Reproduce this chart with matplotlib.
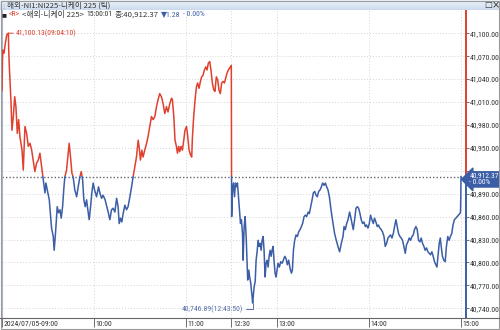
import numpy as np
import matplotlib
matplotlib.use("Agg")
import matplotlib.pyplot as plt
import matplotlib.transforms as mtransforms
from matplotlib import font_manager
from matplotlib.patches import Rectangle
from matplotlib.lines import Line2D

# ------------------------------------------------------------------
# data: Nikkei 225 tick chart, 2024/07/05
# x = trading minutes since 09:00 (lunch 11:30-12:30 removed)
# ------------------------------------------------------------------
am_min = [0.0, 0.3, 0.6, 1.3, 2.2, 3.1, 4.17, 4.4, 4.8, 5.2, 5.9, 6.5, 7.4, 8.3, 9.1,
          10.0, 10.9, 11.7, 13.1, 13.9, 15.0, 16.1, 17.2, 18.3, 19.4, 20.4, 21.5, 22.6,
          23.7, 24.8, 25.9, 27.0, 28.1, 28.7, 29.6, 30.9, 31.8, 32.4, 33.5, 34.1, 35.0,
          35.7, 36.1, 37.0, 37.9, 38.7, 39.6, 40.5, 41.1, 42.2, 43.3, 43.9, 44.8, 45.7,
          46.5, 47.6, 48.8, 49.8, 50.9, 51.8, 52.7, 53.5, 54.4, 55.3, 56.1, 57.0, 57.9,
          58.7, 59.6, 60.5, 61.8, 63.1, 64.0, 65.1, 66.1, 67.4, 68.3, 69.4, 70.5, 71.6,
          72.6, 73.8, 74.9, 75.9, 76.6, 77.5, 78.3, 79.2, 80.3, 81.4, 82.4, 83.6, 84.7,
          85.7, 86.8, 87.9, 89.0, 89.6, 90.5, 91.4, 92.2, 93.3, 94.5, 95.5, 96.6, 97.7,
          98.8, 99.9, 101.0, 102.0, 103.1, 104.2, 105.3, 106.4, 107.5, 108.5, 109.7,
          110.8, 111.4, 112.3, 113.1, 114.0, 114.7, 115.5, 116.2, 117.0, 117.9, 118.8,
          119.6, 120.6, 121.4, 122.3, 123.2, 124.0, 124.5, 125.3, 126.2, 127.1, 127.9,
          128.8, 129.7, 130.5, 131.4, 132.3, 133.2, 134.0, 134.9, 135.8, 136.6, 137.5,
          138.4, 139.2, 140.1, 141.0, 141.8, 142.7, 143.6, 144.5, 145.4, 146.2, 147.1,
          148.0, 149.9]
am_px = [41025, 41065, 41078, 41074, 41087, 41098, 41100.13, 41078, 41056, 41039, 41009,
         40973, 40991, 41017, 41004, 40969, 40987, 40965, 40947, 40921, 40978, 40969,
         40952, 40956, 40947, 40934, 40919, 40930, 40934, 40943, 40925, 40908, 40891,
         40904, 40895, 40882, 40860, 40845, 40834, 40816, 40839, 40860, 40873, 40865,
         40869, 40858, 40873, 40899, 40912, 40921, 40943, 40956, 40938, 40917, 40912,
         40895, 40886, 40899, 40912, 40919, 40908, 40882, 40873, 40882, 40869, 40856,
         40873, 40891, 40904, 40895, 40886, 40899, 40891, 40884, 40888, 40882, 40875,
         40866, 40856, 40869, 40871, 40866, 40884, 40873, 40851, 40858, 40853, 40864,
         40875, 40869, 40873, 40886, 40899, 40912, 40925, 40938, 40960, 40952, 40934,
         40947, 40938, 40947, 40956, 40965, 40978, 40991, 40987, 40991, 41004, 41013,
         41021, 41017, 41008, 40995, 41004, 40997, 41008, 41015, 41013, 40991, 40960,
         40952, 40943, 40952, 40945, 40952, 40947, 40960, 40973, 40978, 40965, 40947,
         40941, 40938, 40965, 40991, 41013, 41030, 41035, 41028, 41037, 41043, 41045,
         41052, 41056, 41052, 41061, 41063, 41052, 41035, 41026, 41024, 41043, 41039,
         41026, 41021, 41035, 41037, 41035, 41041, 41048, 41052, 41058]

pm_min = [150.1, 150.65, 151.3, 152.0, 152.6, 153.3, 153.9, 154.6, 155.2, 155.9, 156.5,
          157.2, 157.6, 158.3, 158.9, 159.6, 160.2, 160.6, 161.3, 161.9, 162.6, 163.0,
          163.5, 163.83, 164.8, 165.5, 166.1, 166.8, 167.4, 168.1, 168.7, 169.4, 170.0,
          170.7, 171.3, 172.0, 172.6, 173.3, 173.95, 174.6, 175.25, 175.9, 176.55, 177.2,
          177.8, 178.5, 179.1, 179.8, 180.4, 181.3, 182.2, 183.1, 183.9, 184.8, 185.7,
          186.5, 187.4, 188.3, 189.2, 189.8, 190.5, 191.3, 192.2, 193.1, 193.9, 194.8,
          195.7, 196.5, 197.45, 198.3, 199.15, 200.1, 200.9, 201.8, 202.7, 203.5, 204.4,
          205.3, 206.1, 207.0, 207.9, 208.75, 209.6, 210.5, 211.4, 212.2, 213.1, 214.0,
          214.8, 215.7, 216.4, 217.4, 218.5, 219.6, 220.7, 221.8, 222.9, 223.6, 224.4,
          225.3, 226.2, 227.2, 227.9, 228.8, 229.6, 230.5, 231.4, 232.2, 233.1, 234.0,
          234.8, 235.7, 236.6, 237.5, 238.3, 239.2, 240.1, 240.9, 241.8, 242.7, 243.5,
          244.4, 245.3, 246.1, 247.0, 247.9, 248.75, 249.7, 250.5, 251.4, 252.3, 253.1,
          254.0, 254.9, 255.8, 256.6, 257.5, 258.35, 259.2, 260.1, 261.0, 261.8, 262.7,
          263.6, 264.4, 265.3, 266.2, 267.05, 268.0, 268.8, 269.6, 270.55, 271.4, 272.3,
          273.2, 274.0, 274.9, 275.8, 276.6, 277.5, 278.4, 279.25, 280.1, 281.0, 281.85,
          282.7, 283.6, 284.3, 284.95, 285.8, 286.5, 287.1, 287.9, 288.8, 289.7, 290.5,
          291.4, 292.3, 293.1, 294.0, 294.8, 295.7, 296.7, 297.5, 298.4, 299.3, 299.7,
          299.9, 300.02]
pm_px = [40860, 40895, 40904, 40886, 40904, 40899, 40904, 40886, 40869, 40851, 40856,
         40838, 40803, 40847, 40860, 40834, 40799, 40777, 40790, 40781, 40773, 40764,
         40755, 40746.89, 40768, 40775, 40803, 40815, 40829, 40821, 40825, 40816, 40829,
         40834, 40816, 40781, 40799, 40803, 40794, 40808, 40816, 40808, 40816, 40821,
         40803, 40786, 40781, 40790, 40799, 40794, 40801, 40799, 40803, 40808, 40805,
         40797, 40803, 40792, 40786, 40790, 40816, 40829, 40836, 40834, 40840, 40843,
         40847, 40851, 40860, 40862, 40860, 40866, 40864, 40873, 40882, 40891, 40893,
         40888, 40886, 40893, 40895, 40899, 40904, 40901, 40904, 40899, 40895, 40886,
         40873, 40860, 40851, 40838, 40829, 40821, 40814, 40825, 40834, 40847, 40843,
         40851, 40856, 40866, 40860, 40851, 40843, 40856, 40871, 40873, 40871, 40864,
         40856, 40851, 40853, 40847, 40849, 40845, 40851, 40862, 40856, 40851, 40858,
         40853, 40847, 40849, 40845, 40843, 40840, 40834, 40821, 40825, 40832, 40834,
         40836, 40832, 40838, 40847, 40856, 40847, 40838, 40834, 40832, 40829, 40821,
         40812, 40823, 40827, 40832, 40829, 40834, 40836, 40843, 40847, 40843, 40829,
         40827, 40832, 40825, 40821, 40816, 40819, 40814, 40812, 40810, 40814, 40808,
         40801, 40797, 40794, 40808, 40825, 40832, 40821, 40808, 40803, 40801, 40821,
         40834, 40829, 40834, 40838, 40849, 40856, 40858, 40860, 40862, 40864, 40866,
         40886, 40912.37]

prev_close = 40913.65
last_price = 40912.37
change = -1.28
change_pct = -0.00

hi_min, hi_px, hi_label = 4.17, 41100.13, "09:04:10"
lo_min, lo_px, lo_label = 163.83, 40746.89, "12:43:50"

tick_pos = [0, 60, 120, 150, 180, 240, 300]
tick_lbl = ["2024/07/05-09:00", "10:00", "11:00", "12:30", "13:00", "14:00", "15:00"]
price_ticks = list(range(40740, 41101, 30))

title = "해외-NI1:NI225-니케이 225 (틱)"
series_name = "<해외-니케이 225>"
last_time = "15:00:01"

# ------------------------------------------------------------------
RED = "#e0402e"
BLUE = "#3b5ea6"
GRID = "#d4d4d4"
TXT = "#333333"
KR_FONT = ["Noto Sans CJK KR", "DejaVu Sans"]


def font_ok(name):
    try:
        font_manager.findfont(font_manager.FontProperties(family=name),
                              fallback_to_default=False)
        return True
    except ValueError:
        return False


# narrow font for the numbers if one is around, otherwise a smaller Liberation Sans
if font_ok("Liberation Sans Narrow"):
    NUM_FONT, FS = ["Liberation Sans Narrow", "DejaVu Sans"], 5.8
elif font_ok("Roboto Condensed"):
    NUM_FONT, FS = ["Roboto Condensed", "DejaVu Sans"], 5.6
else:
    NUM_FONT, FS = ["Liberation Sans", "DejaVu Sans"], 4.9

plt.rcParams["font.family"] = NUM_FONT

W, H = 500, 330
fig = plt.figure(figsize=(W / 100, H / 100), dpi=100)
fig.patch.set_facecolor("white")

# plot area in pixel units
ax = fig.add_axes([2 / W, 12 / H, 464 / W, 308 / H])
ax.set_xlim(0, 303.3)
ax.set_ylim(40727.3, 41130.5)

t_all = np.array(am_min + pm_min)
v_all = np.array(am_px + pm_px)

# one line coloured red above previous close, blue below
up, = ax.plot(t_all, v_all, color=RED, lw=1.1, zorder=3)
dn, = ax.plot(t_all, v_all, color=BLUE, lw=1.1, zorder=3)
up.set_clip_path(Rectangle((-50, prev_close), 500, 2000, transform=ax.transData))
dn.set_clip_path(Rectangle((-50, prev_close - 2000), 500, 2000, transform=ax.transData))

# last price dotted line
ax.axhline(last_price, color="#666666", lw=1.0, ls=(0, (1, 1.5)), zorder=2)

# grid; the price label hidden under the last-price tag is left blank
ax.set_yticks(price_ticks)
ax.set_yticklabels(["" if abs(p - last_price) < 15 else f"{p:,.2f}" for p in price_ticks])
ax.set_xticks(tick_pos)
ax.set_xticklabels(tick_lbl)
ax.grid(True, color=GRID, lw=0.7, ls=(0, (1, 2)))
ax.set_axisbelow(True)

ax.yaxis.tick_right()
ax.tick_params(axis="y", length=1.8, width=0.6, color="#555555", pad=0.6,
               labelsize=FS, labelcolor=TXT)
ax.tick_params(axis="x", length=6.5, width=0.6, color="#555555", pad=-5.5,
               labelsize=FS, labelcolor=TXT)
shift = mtransforms.ScaledTranslation(1.5 / 100, -1.5 / 100, fig.dpi_scale_trans)
for lb in ax.get_xticklabels():
    lb.set_horizontalalignment("left")
    lb.set_transform(lb.get_transform() + shift)

for side in ["top", "right", "bottom"]:
    ax.spines[side].set_visible(False)
ax.spines["left"].set_color("#a9b7cc")
ax.spines["left"].set_linewidth(0.8)

# right axis line: red above the last price, blue below
xr = ax.get_xlim()[1]
y0, y1 = ax.get_ylim()
ax.plot([xr, xr], [prev_close, y1], color=RED, lw=1.4, clip_on=False, zorder=4)
ax.plot([xr, xr], [y0, prev_close], color=BLUE, lw=1.4, clip_on=False, zorder=4)

# high / low markers
ax.annotate(f"{hi_px:,.2f}({hi_label})", xy=(hi_min, hi_px), xytext=(5.5, 0),
            textcoords="offset points", ha="left", va="center", fontsize=FS,
            color=RED, arrowprops=dict(arrowstyle="-", color=RED, lw=0.7,
                                       shrinkA=0, shrinkB=0))
ax.annotate(f"{lo_px:,.2f}({lo_label})", xy=(lo_min, lo_px), xytext=(-7, -4.3),
            textcoords="offset points", ha="right", va="center", fontsize=FS,
            color="#5670a8",
            arrowprops=dict(arrowstyle="-", color="#5670a8", lw=0.7, shrinkA=0.5,
                            shrinkB=0, connectionstyle="angle,angleA=0,angleB=90,rad=0"))

# last price tag
ax.annotate(f"{last_price:,.2f}\n- {abs(change_pct):.2f}%", xy=(1, last_price),
            xycoords=("axes fraction", "data"), xytext=(2.4, -2),
            textcoords="offset points", ha="left", va="center", fontsize=FS - 0.2,
            color="white", linespacing=0.95, annotation_clip=False, zorder=5,
            bbox=dict(boxstyle="larrow,pad=0.1", fc=BLUE, ec=BLUE))

# x axis base line across full width, outer frame
fig.add_artist(Line2D([0, 1], [12 / H, 12 / H], color="#666666", lw=0.8))
fig.add_artist(Rectangle((0.001, 0.002), 0.997, 0.996, transform=fig.transFigure,
                         fill=False, ec="#9a9a9a", lw=0.8))

# title bar
tb = fig.add_axes([0, 1 - 10 / H, 1, 10 / H])
grad = np.linspace(0, 1, 20).reshape(-1, 1)
tb.imshow(grad, aspect="auto", cmap=matplotlib.colors.LinearSegmentedColormap.from_list(
    "tb", ["#edf3fa", "#cddcee"]), extent=(0, 1, 0, 1))
tb.axhline(0, color="#9fb4cf", lw=0.8)
tb.set_axis_off()
tb.set_xlim(0, 1)
tb.set_ylim(0, 1)
fig.text(0.5 / W, 1 - 5.5 / H, "⋮", fontsize=4.5, color="#8090a8", va="center",
         family=["DejaVu Sans"])
fig.text(7 / W, 1 - 5.5 / H, title, fontsize=5.5, color=TXT, va="center", family=KR_FONT)
fig.text(484 / W, 1 - 5 / H, "□", fontsize=6, color="#333333", va="center",
         family=["DejaVu Sans"])
fig.text(492 / W, 1 - 5 / H, "×", fontsize=7, color="#333333", va="center",
         family=["DejaVu Sans"])

# legend line: pieces chained one after another
pieces = [("<R>", RED, NUM_FONT),
          (series_name, TXT, KR_FONT),
          (last_time, TXT, NUM_FONT),
          (f"종:{last_price:,.2f}", TXT, KR_FONT),
          (f"▼{abs(change):.2f}", BLUE, NUM_FONT),
          (f"- {abs(change_pct):.2f}%", BLUE, NUM_FONT)]
prev = fig.text(1.5 / W, 1 - 14.5 / H, "■", fontsize=3.8, color="#222222", va="center",
                family=["DejaVu Sans"])
for txt, col, fam in pieces:
    size = FS if fam is NUM_FONT else 5.6
    prev = ax.annotate(txt, xy=(1, 0.5), xycoords=prev, xytext=(1.6, 0),
                       textcoords="offset points", ha="left", va="center",
                       fontsize=size, color=col, family=fam, annotation_clip=False)

fig.savefig("out.png", dpi=100)
